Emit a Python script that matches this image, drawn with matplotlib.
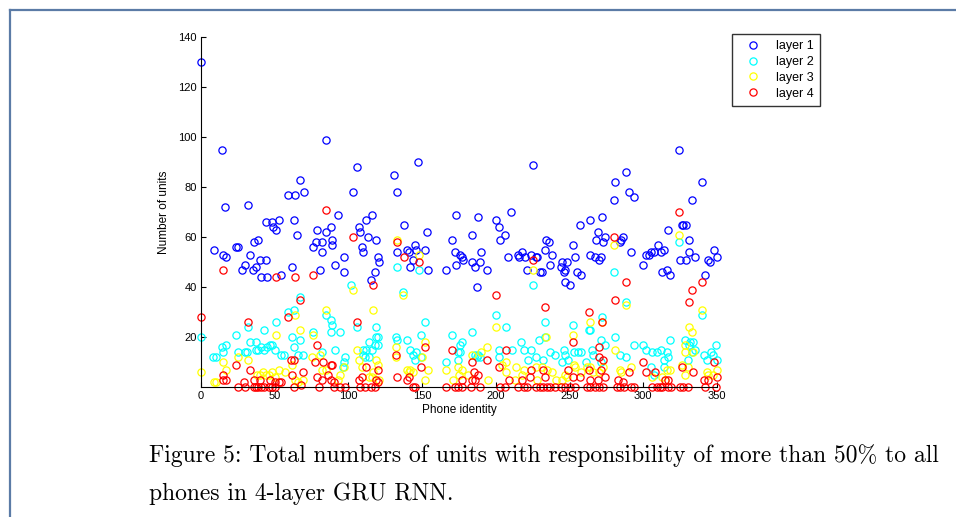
import matplotlib
matplotlib.use("Agg")
import matplotlib.pyplot as plt
from matplotlib.lines import Line2D

# units with >50% responsibility per phone, one list pair per layer
layer1_x = [0, 14, 16, 9, 15, 17, 24, 25, 28, 30, 32, 33, 35, 37, 36, 39, 40, 41, 44, 45,
            44, 48, 49, 51, 53, 54, 59, 62, 63, 64, 65, 67, 70, 76, 78, 79, 81, 82, 82, 85,
            85, 88, 89, 89, 91, 93, 97, 97, 103, 106, 107, 108, 109, 110, 112, 113, 115, 116, 118, 119,
            120, 121, 131, 133, 133, 138, 140, 141, 142, 144, 145, 146, 147, 152, 153, 154, 166, 170, 172, 173,
            173, 176, 177, 178, 184, 184, 186, 187, 188, 189, 190, 194, 200, 202, 203, 206, 208, 210, 215, 216,
            218, 220, 221, 224, 225, 227, 228, 230, 231, 233, 234, 236, 237, 238, 244, 245, 246, 247, 248, 247,
            250, 252, 254, 255, 257, 258, 264, 264, 267, 268, 269, 270, 271, 272, 273, 274, 280, 281, 284, 285,
            286, 288, 290, 292, 294, 300, 302, 304, 305, 307, 310, 312, 313, 314, 316, 317, 318, 324, 325, 326,
            327, 329, 329, 331, 331, 333, 335, 340, 342, 344, 345, 348, 350]
layer1_y = [130, 95, 72, 55, 53, 52, 56, 56, 47, 49, 73, 53, 47, 48, 58, 59, 51, 44, 51, 44,
            66, 66, 64, 63, 67, 45, 77, 48, 67, 77, 61, 83, 78, 56, 58, 63, 47, 58, 54, 62,
            99, 64, 59, 57, 49, 69, 52, 46, 78, 88, 64, 62, 56, 54, 67, 60, 43, 69, 46, 59,
            52, 50, 85, 78, 54, 65, 55, 54, 48, 51, 57, 55, 90, 55, 62, 47, 47, 59, 54, 69,
            49, 53, 52, 51, 61, 50, 48, 40, 68, 50, 54, 47, 67, 64, 59, 61, 52, 70, 53, 52,
            54, 52, 47, 53, 89, 52, 52, 46, 46, 55, 59, 58, 49, 53, 48, 50, 46, 47, 50, 42,
            41, 57, 52, 46, 65, 45, 67, 53, 52, 59, 62, 51, 52, 68, 58, 60, 75, 82, 58, 59,
            60, 86, 78, 54, 76, 49, 53, 53, 54, 54, 57, 54, 46, 55, 47, 63, 45, 95, 51, 65,
            65, 65, 51, 54, 59, 75, 52, 82, 45, 51, 50, 55, 52]

layer2_x = [0, 67, 63, 59, 85, 32, 51, 43, 24, 62, 76, 14, 17, 15, 10, 25, 30, 33, 37, 39,
            41, 43, 45, 47, 48, 50, 54, 56, 63, 66, 69, 67, 8, 31, 37, 82, 102, 137, 88, 89,
            88, 94, 106, 119, 152, 119, 120, 132, 133, 140, 149, 170, 114, 118, 120, 116, 112, 110, 110, 111,
            114, 91, 98, 97, 96, 142, 144, 145, 146, 149, 166, 174, 133, 148, 225, 200, 207, 233, 252, 263,
            184, 176, 177, 174, 176, 186, 188, 187, 189, 202, 202, 211, 217, 219, 224, 227, 222, 232, 229, 233,
            237, 240, 246, 247, 245, 249, 253, 256, 258, 288, 340, 272, 264, 271, 274, 265, 266, 281, 284, 288,
            294, 300, 302, 306, 309, 312, 316, 318, 317, 314, 305, 314, 307, 328, 332, 334, 331, 333, 335, 330,
            341, 346, 347, 350, 343, 349, 261, 271, 324, 280]
layer2_y = [20, 36, 31, 30, 29, 24, 26, 23, 21, 20, 22, 16, 17, 14, 12, 14, 14, 18, 15, 15,
            16, 15, 16, 17, 17, 15, 13, 13, 16, 13, 13, 19, 12, 14, 18, 14, 41, 38, 27, 25,
            22, 22, 24, 24, 26, 20, 20, 20, 19, 19, 21, 21, 18, 17, 17, 15, 15, 15, 13, 12,
            12, 15, 12, 10, 8, 15, 13, 11, 14, 12, 10, 11, 48, 47, 41, 29, 24, 26, 25, 23,
            22, 17, 18, 14, 14, 13, 13, 12, 12, 15, 12, 15, 18, 15, 15, 12, 11, 11, 19, 20,
            14, 13, 15, 13, 10, 11, 14, 14, 14, 34, 29, 28, 23, 19, 17, 15, 13, 20, 13, 12,
            17, 17, 15, 14, 14, 15, 14, 19, 12, 11, 8, 8, 5, 19, 18, 18, 17, 14, 15, 11,
            13, 14, 13, 11, 11, 17, 10, 10, 58, 46]

layer3_x = [0, 64, 85, 67, 51, 76, 25, 32, 15, 17, 10, 9, 38, 40, 42, 44, 46, 48, 50, 53,
            57, 62, 64, 66, 69, 75, 81, 82, 85, 103, 137, 117, 94, 93, 97, 106, 107, 109, 119, 120,
            117, 116, 114, 121, 132, 132, 140, 142, 144, 141, 152, 152, 154, 150, 166, 174, 171, 133, 148, 225,
            200, 234, 252, 194, 184, 190, 177, 175, 181, 204, 207, 207, 214, 219, 227, 231, 235, 238, 245, 248,
            253, 254, 258, 262, 228, 195, 213, 218, 241, 247, 280, 324, 288, 340, 264, 272, 281, 266, 270, 273,
            264, 284, 285, 292, 316, 318, 306, 313, 315, 331, 333, 328, 328, 334, 330, 326, 328, 343, 347, 350,
            344]
layer3_y = [6, 29, 31, 23, 21, 21, 12, 11, 10, 7, 2, 2, 5, 5, 6, 5, 5, 6, 4, 7,
            6, 9, 3, 2, 3, 12, 13, 7, 7, 39, 37, 31, 5, 3, 8, 15, 11, 8, 11, 9,
            6, 4, 4, 3, 16, 12, 7, 7, 6, 6, 18, 3, 7, 12, 7, 8, 3, 59, 53, 47,
            24, 20, 21, 16, 13, 14, 7, 5, 5, 9, 10, 6, 8, 7, 8, 8, 7, 6, 3, 4,
            9, 8, 6, 8, 3, 3, 3, 5, 3, 5, 57, 61, 33, 31, 26, 26, 15, 6, 6, 8,
            8, 7, 6, 8, 7, 7, 4, 4, 3, 24, 22, 17, 14, 14, 8, 9, 5, 6, 5, 7,
            5]

layer4_x = [0, 67, 59, 85, 32, 79, 15, 51, 64, 76, 103, 117, 133, 138, 148, 152, 106, 24, 33, 15,
            17, 15, 25, 29, 30, 36, 36, 37, 39, 41, 43, 46, 48, 50, 40, 47, 50, 53, 54, 61,
            63, 62, 69, 63, 68, 77, 83, 79, 82, 80, 89, 88, 86, 88, 90, 90, 94, 98, 108, 111,
            115, 118, 112, 120, 119, 120, 109, 107, 132, 133, 140, 141, 144, 145, 149, 166, 172, 170, 200, 233,
            263, 225, 280, 324, 288, 340, 281, 333, 331, 272, 184, 194, 207, 252, 185, 188, 186, 184, 177, 202,
            224, 232, 249, 252, 257, 263, 174, 177, 183, 189, 203, 206, 215, 219, 221, 227, 230, 232, 235, 237,
            240, 244, 247, 250, 254, 262, 209, 218, 223, 233, 264, 267, 270, 273, 282, 284, 287, 292, 294, 306,
            309, 311, 313, 317, 319, 325, 327, 330, 342, 349, 270, 270, 273, 271, 264, 269, 274, 290, 300, 302,
            308, 334, 326, 348, 341, 344, 350, 283, 286, 315, 317]
layer4_y = [28, 35, 28, 71, 26, 17, 47, 44, 44, 45, 60, 41, 58, 52, 50, 16, 26, 9, 7, 5,
            3, 3, 0, 2, 0, 3, 0, 0, 0, 0, 0, 0, 0, 0, 3, 3, 2, 2, 2, 11,
            11, 5, 6, 0, 1, 10, 10, 4, 3, 0, 9, 9, 5, 3, 2, 0, 0, 0, 0, 0,
            0, 0, 8, 7, 3, 2, 4, 3, 13, 4, 3, 4, 0, 0, 8, 0, 0, 15, 37, 32,
            30, 51, 60, 70, 42, 42, 35, 39, 34, 26, 10, 11, 15, 18, 6, 5, 3, 3, 3, 8,
            7, 7, 7, 4, 4, 7, 0, 0, 0, 0, 0, 0, 0, 0, 0, 0, 0, 0, 0, 0,
            0, 0, 0, 0, 0, 0, 3, 3, 4, 4, 0, 0, 0, 0, 0, 0, 0, 0, 0, 0,
            0, 0, 0, 0, 0, 0, 0, 0, 0, 0, 16, 12, 11, 7, 3, 3, 4, 6, 10, 6,
            6, 6, 8, 10, 3, 3, 4, 3, 2, 3, 3]

layers = [(layer1_x, layer1_y, "#0000ff", "layer 1"),
          (layer2_x, layer2_y, "#00ffff", "layer 2"),
          (layer3_x, layer3_y, "#ffff00", "layer 3"),
          (layer4_x, layer4_y, "#ff0000", "layer 4")]

caption_1 = "Figure 5: Total numbers of units with responsibility of more than 50% to all"
caption_2 = "phones in 4-layer GRU RNN."

plt.rcParams["font.family"] = ["Liberation Sans", "DejaVu Sans"]

fig = plt.figure(figsize=(9.56, 5.17), dpi=100)
ax = fig.add_axes([201 / 956, 1 - 387 / 517, 516 / 956, 350 / 517])

handles = []
for xs, ys, col, name in layers:
    h, = ax.plot(xs, ys, "o", mfc="none", mec=col, ms=5.2, mew=0.9,
                 clip_on=False, label=name)
    handles.append(h)

ax.set_xlim(0, 350)
ax.set_ylim(0, 140)
ax.set_xticks(range(0, 351, 50))
ax.set_yticks(range(20, 141, 20))
ax.tick_params(direction="in", length=3.5, width=0.8, labelsize=8, pad=3)
for side in ["top", "right"]:
    ax.spines[side].set_visible(False)
for side in ["left", "bottom"]:
    ax.spines[side].set_linewidth(0.8)
ax.set_xlabel("Phone identity", fontsize=8.5, labelpad=2)
ax.set_ylabel("Number of units", fontsize=8.5, labelpad=6)

leg = fig.legend(handles=handles, loc="upper left", bbox_to_anchor=(732 / 956, 1 - 34 / 517),
                 fontsize=9, numpoints=1, handlelength=2.3, handletextpad=0.7,
                 borderpad=0.5, labelspacing=0.3, fancybox=False, borderaxespad=0)
leg.get_frame().set_edgecolor("black")
leg.get_frame().set_linewidth(1.0)

# page frame of the screenshot
fig.add_artist(Line2D([9.5 / 956, 1], [1 - 9.5 / 517, 1 - 9.5 / 517], color="#5b7ba6", lw=1.6))
fig.add_artist(Line2D([9.5 / 956, 9.5 / 956], [0, 1 - 9.5 / 517], color="#5b7ba6", lw=1.6))

fig.text(149 / 956, 1 - 462 / 517, caption_1, family="cmr10", fontsize=17, va="baseline")
fig.text(149 / 956, 1 - 500 / 517, caption_2, family="cmr10", fontsize=17, va="baseline")

plt.savefig("out.png", dpi=100)
